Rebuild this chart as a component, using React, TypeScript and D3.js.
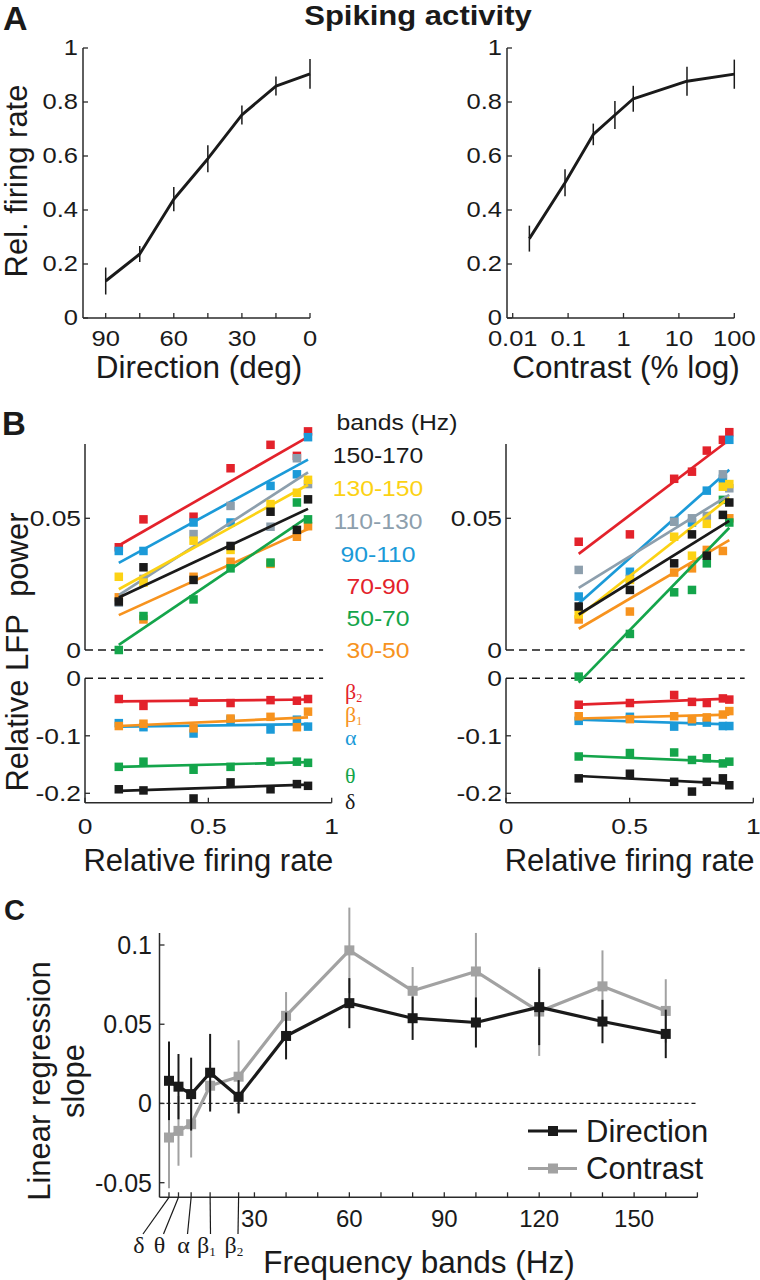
import React from 'react';
import * as d3 from 'd3';

// ---------- Panel A : spiking activity ----------
const directionDeg = [90, 75, 60, 45, 30, 15, 0];
const directionRate = [0.137, 0.237, 0.44, 0.59, 0.752, 0.859, 0.904];
const directionErr = [0.05, 0.03, 0.045, 0.05, 0.035, 0.035, 0.055];
const contrastPct = [0.02, 0.088, 0.285, 0.7, 1.5, 14, 100];
const contrastRate = [0.294, 0.501, 0.68, 0.752, 0.812, 0.877, 0.903];
const contrastErr = [0.048, 0.05, 0.04, 0.052, 0.048, 0.054, 0.054];
const rateTicks = [0, 0.2, 0.4, 0.6, 0.8, 1];
const rateTickLabels = ['0', '0.2', '0.4', '0.6', '0.8', '1'];
const directionTicks = [90, 75, 60, 45, 30, 15, 0];
const directionTickLabels = [90, 60, 30, 0];
const contrastTicks = [0.01, 0.1, 1, 10, 100];
const contrastTickLabels = ['0.01', '0.1', '1', '10', '100'];

// ---------- Bands (shared by B and C) ----------
const bandNames = ['δ', 'θ', 'α', 'β1', 'β2', '30-50', '50-70', '70-90', '90-110', '110-130', '130-150', '150-170'];
const bandColors = ['#1a1a1a', '#14a54b', '#1b9ad8', '#f7931e', '#e3222b', '#f7931e', '#14a54b', '#e3222b', '#1b9ad8', '#8d9fad', '#fcd214', '#1a1a1a'];
const bandFreq = [3, 6, 10, 16, 25, 40, 60, 80, 100, 120, 140, 160];

// ---------- Panel B : relative LFP power vs relative firing rate ----------
// rows follow bandNames, columns follow the 7 stimulus conditions
const lfpDirection = [
  [-0.193, -0.195, -0.209, -0.181, -0.193, -0.184, -0.187],
  [-0.154, -0.145, -0.159, -0.154, -0.145, -0.145, -0.147],
  [-0.078, -0.085, -0.096, -0.072, -0.089, -0.072, -0.084],
  [-0.083, -0.079, -0.087, -0.070, -0.067, -0.085, -0.058],
  [-0.036, -0.048, -0.041, -0.043, -0.038, -0.039, -0.036],
  [0.020, 0.0116, 0.0278, 0.0335, 0.0327, 0.043, 0.047],
  [0.0, 0.0129, 0.0192, 0.031, 0.0332, 0.056, 0.0496],
  [0.039, 0.0496, 0.0506, 0.069, 0.0779, 0.0737, 0.083],
  [0.0376, 0.0376, 0.0484, 0.0484, 0.0623, 0.0667, 0.0808],
  [0.018, 0.027, 0.044, 0.0547, 0.0468, 0.0728, 0.063],
  [0.0278, 0.0256, 0.0415, 0.038, 0.0554, 0.0597, 0.0646],
  [0.0184, 0.0314, 0.0266, 0.0395, 0.0525, 0.0456, 0.0572],
];
const lfpContrast = [
  [-0.174, -0.166, -0.180, -0.197, -0.180, -0.174, -0.186],
  [-0.136, -0.130, -0.129, -0.142, -0.139, -0.148, -0.145],
  [-0.074, -0.067, -0.084, -0.075, -0.077, -0.083, -0.083],
  [-0.066, -0.071, -0.066, -0.071, -0.068, -0.063, -0.057],
  [-0.046, -0.043, -0.029, -0.041, -0.043, -0.035, -0.037],
  [0.0116, 0.0146, 0.0294, 0.031, 0.038, 0.0376, 0.05],
  [-0.0101, 0.0061, 0.0219, 0.0228, 0.0329, 0.057, 0.0484],
  [0.0411, 0.0439, 0.065, 0.0677, 0.0757, 0.0798, 0.0827],
  [0.0203, 0.0297, 0.049, 0.0484, 0.0605, 0.065, 0.0798],
  [0.0304, 0.027, 0.0487, 0.05, 0.0509, 0.0667, 0.0614],
  [0.0135, 0.0266, 0.043, 0.0358, 0.0479, 0.062, 0.063],
  [0.0165, 0.0228, 0.0329, 0.0439, 0.0358, 0.0513, 0.056],
];
// regression intercepts (slopes are the values plotted in panel C)
const fitInterceptDirection = [-0.1979, -0.1555, -0.0851, -0.0856, -0.0407, 0.0074, -0.0067, 0.0323, 0.0261, 0.0125, 0.016, 0.0139];
const fitInterceptContrast = [-0.1636, -0.1296, -0.0682, -0.0732, -0.0506, -0.0082, -0.0408, 0.0156, -0.0068, 0.0065, -0.0089, -0.0037];
const upperTicks = [0, 0.05];
const upperTickLabels = ['0', '0.05'];
const lowerTicks = [0, -0.1, -0.2];
const lowerTickLabels = ['0', '-0.1', '-0.2'];
const firingTicks = [0, 0.5, 1];
const firingTickLabels = ['0', '0.5', '1'];

// ---------- Panel C : regression slopes ----------
const slopeDirection = [0.0143, 0.0106, 0.0059, 0.0194, 0.0042, 0.0426, 0.0633, 0.0538, 0.0511, 0.0608, 0.0517, 0.0439];
const slopeDirectionErr = [0.0248, 0.0206, 0.023, 0.0245, 0.0105, 0.0148, 0.0158, 0.0137, 0.0158, 0.024, 0.0137, 0.0153];
const slopeContrast = [-0.0215, -0.0173, -0.0131, 0.0112, 0.0169, 0.0553, 0.0966, 0.0711, 0.0833, 0.058, 0.0739, 0.0584];
const slopeContrastErr = [0.032, 0.022, 0.021, 0.015, 0.023, 0.015, 0.027, 0.015, 0.0243, 0.028, 0.0227, 0.02];
const slopeTicks = [-0.05, 0, 0.05, 0.1];
const slopeTickLabels = ['-0.05', '0', '0.05', '0.1'];
const freqTicks = [30, 40, 50, 60, 70, 80, 90, 100, 110, 120, 130, 140, 150, 160, 170];
const freqTickLabels = [30, 60, 90, 120, 150];

const FONT = '"Liberation Sans", Arial, Helvetica, sans-serif';
const SERIF = '"Liberation Serif", "Times New Roman", serif';
const INK = '#1a1a1a';
const AXIS = '#2a2a2a';
const GRAY = '#a2a2a2';

function Txt(props: any) {
  const { x, y, children, size = 24, anchor = 'start', weight = 'normal', fill = INK, sx = 1, rotate = 0, family = FONT } = props;
  let t = `translate(${x},${y})`;
  if (rotate) t += ` rotate(${rotate})`;
  if (sx !== 1) t += ` scale(${sx},1)`;
  return (
    <text transform={t} fontSize={size} textAnchor={anchor} fontWeight={weight} fill={fill} fontFamily={family}>
      {children}
    </text>
  );
}

function Greek({ name, x, y, size, fill, anchor = 'start' }: any) {
  const base = name.charAt(0);
  const sub = name.length > 1 ? name.slice(1) : null;
  return (
    <text x={x} y={y} fontSize={size} fill={fill} fontFamily={SERIF} textAnchor={anchor}>
      {base}
      {sub && (
        <tspan fontSize={size * 0.55} dy={size * 0.12}>
          {sub}
        </tspan>
      )}
    </text>
  );
}

function PanelAChart({ xScale, xs, rates, errs, ticks, tickLabelVals, tickLabels, axisX0, axisX1, yLabelX, label }: any) {
  const yA = d3.scaleLinear().domain([0, 1]).range([318, 48]);
  const path = d3.line<number>().x((_, i) => xScale(xs[i])).y((d) => yA(d))(rates) as string;
  return (
    <g>
      <line x1={axisX0} x2={axisX0} y1={yA(1)} y2={yA(0)} stroke={AXIS} strokeWidth={1.5} />
      <line x1={axisX0} x2={axisX1} y1={yA(0)} y2={yA(0)} stroke={AXIS} strokeWidth={1.5} />
      {rateTicks.map((t, i) => (
        <g key={'y' + i}>
          <line x1={axisX0} x2={axisX0 + 5} y1={yA(t)} y2={yA(t)} stroke={AXIS} strokeWidth={1.3} />
          <Txt x={yLabelX} y={yA(t) + 7} size={22} sx={1.16} anchor="end">{rateTickLabels[i]}</Txt>
        </g>
      ))}
      {ticks.map((t: number, i: number) => (
        <line key={'x' + i} x1={xScale(t)} x2={xScale(t)} y1={yA(0)} y2={yA(0) - 5} stroke={AXIS} strokeWidth={1.3} />
      ))}
      {tickLabelVals.map((t: number, i: number) => (
        <Txt key={'xl' + i} x={xScale(t)} y={346} size={22} sx={1.16} anchor="middle">{tickLabels[i]}</Txt>
      ))}
      {rates.map((r: number, i: number) => (
        <line key={'e' + i} x1={xScale(xs[i])} x2={xScale(xs[i])} y1={yA(r - errs[i])} y2={yA(r + errs[i])} stroke={INK} strokeWidth={1.5} />
      ))}
      <path d={path} fill="none" stroke={INK} strokeWidth={2.9} strokeLinejoin="round" />
      {label}
    </g>
  );
}

function PanelBChart({ xScale, rates, values, intercepts, slopes, axisX0 }: any) {
  const yUp = d3.scaleLinear().domain([0, 0.05]).range([650, 518.3]);
  const yLow = d3.scaleLinear().domain([0, -0.1]).range([678.3, 735.8]);
  const x0 = xScale(0);
  const x1 = xScale(1);
  const xDashEnd = xScale(0.965);
  const bottom = yLow(-0.2164);
  const order = [0, 1, 2, 3, 4, 5, 6, 7, 8, 9, 10, 11];
  return (
    <g>
      <line x1={x0} x2={x0} y1={yUp(0.0782)} y2={yUp(0)} stroke={AXIS} strokeWidth={1.5} />
      <line x1={x0} x2={x0} y1={yLow(0)} y2={bottom} stroke={AXIS} strokeWidth={1.5} />
      <line x1={x0} x2={x1} y1={bottom} y2={bottom} stroke={AXIS} strokeWidth={1.5} />
      <line x1={x0} x2={xDashEnd} y1={yUp(0)} y2={yUp(0)} stroke={INK} strokeWidth={1.5} strokeDasharray="8,5" />
      <line x1={x0} x2={xDashEnd} y1={yLow(0)} y2={yLow(0)} stroke={INK} strokeWidth={1.5} strokeDasharray="8,5" />
      {upperTicks.map((t, i) => (
        <g key={'u' + i}>
          {t !== 0 && <line x1={x0} x2={x0 + 5} y1={yUp(t)} y2={yUp(t)} stroke={AXIS} strokeWidth={1.3} />}
          <Txt x={axisX0} y={yUp(t) + 8} size={22} sx={1.2} anchor="end">{upperTickLabels[i]}</Txt>
        </g>
      ))}
      {lowerTicks.map((t, i) => (
        <g key={'l' + i}>
          {t !== 0 && <line x1={x0} x2={x0 + 5} y1={yLow(t)} y2={yLow(t)} stroke={AXIS} strokeWidth={1.3} />}
          <Txt x={axisX0} y={yLow(t) + 8} size={22} sx={1.2} anchor="end">{lowerTickLabels[i]}</Txt>
        </g>
      ))}
      {firingTicks.map((t, i) => (
        <g key={'f' + i}>
          <line x1={xScale(t)} x2={xScale(t)} y1={bottom} y2={bottom - 5} stroke={AXIS} strokeWidth={1.3} />
          <Txt x={xScale(t)} y={834} size={22} sx={1.2} anchor="middle">{firingTickLabels[i]}</Txt>
        </g>
      ))}
      {order.map((b) => {
        const ys = b < 5 ? yLow : yUp;
        const xa = rates[0];
        const xb = rates[rates.length - 1];
        const ya = intercepts[b] + slopes[b] * xa;
        const yb = intercepts[b] + slopes[b] * xb;
        return (
          <g key={'b' + b}>
            <line x1={xScale(xa)} x2={xScale(xb)} y1={ys(ya)} y2={ys(yb)} stroke={bandColors[b]} strokeWidth={2.7} />
            {values[b].map((v: number, i: number) => (
              <rect key={i} x={xScale(rates[i]) - 4.25} y={ys(v) - 4.25} width={8.5} height={8.5} fill={bandColors[b]} />
            ))}
          </g>
        );
      })}
      <Txt x={(x0 + x1) / 2} y={871} size={31} anchor="middle">Relative firing rate</Txt>
    </g>
  );
}

export default function App() {
  const xA1 = d3.scaleLinear().domain([100, 0]).range([83, 310]);
  const xA2 = d3.scaleLog().domain([0.01, 100]).range([512.7, 734.3]);
  const xB1 = d3.scaleLinear().domain([0, 1]).range([85, 331.7]);
  const xB2 = d3.scaleLinear().domain([0, 1]).range([506, 753.3]);
  const xC = d3.scaleLinear().domain([0, 170]).range([159.5, 697.4]);
  const yC = d3.scaleLinear().domain([-0.05, 0.1]).range([1182.7, 945]);
  const cAxisY = 1197.3;

  const highLegendOrder = [11, 10, 9, 8, 7, 6, 5];
  const highLegendY = [463, 496, 528.5, 561.5, 593.5, 625.5, 658];
  const lowLegendOrder = [4, 3, 2, 1, 0];
  const lowLegendY = [699, 722, 745, 783, 809];
  const bandLabelX = [139, 159.5, 183.5, 206.5, 234];

  const lineDir = d3.line<number>().x((_, i) => xC(bandFreq[i])).y((d) => yC(d))(slopeDirection) as string;
  const lineCon = d3.line<number>().x((_, i) => xC(bandFreq[i])).y((d) => yC(d))(slopeContrast) as string;

  return (
    <svg width={760} height={1280} style={{ position: 'absolute', left: 0, top: 0, background: '#fff' }} fontFamily={FONT}>
      <rect width={760} height={1280} fill="#fff" />
      {/* ===== Panel A ===== */}
      <Txt x={3} y={30} size={34} weight="bold">A</Txt>
      <Txt x={418} y={25} size={27} sx={1.15} weight="bold" anchor="middle">Spiking activity</Txt>
      <PanelAChart
        xScale={xA1}
        xs={directionDeg}
        rates={directionRate}
        errs={directionErr}
        ticks={directionTicks}
        tickLabelVals={directionTickLabels}
        tickLabels={directionTickLabels.map(String)}
        axisX0={83}
        axisX1={xA1(0)}
        yLabelX={78}
        label={<Txt x={199} y={378} size={31.5} anchor="middle">Direction (deg)</Txt>}
      />
      <Txt x={27} y={181} size={31} rotate={-90} anchor="middle">Rel. firing rate</Txt>
      <PanelAChart
        xScale={xA2}
        xs={contrastPct}
        rates={contrastRate}
        errs={contrastErr}
        ticks={contrastTicks}
        tickLabelVals={contrastTicks}
        tickLabels={contrastTickLabels}
        axisX0={507}
        axisX1={xA2(100)}
        yLabelX={502}
        label={<Txt x={626} y={378} size={31.5} anchor="middle">Contrast (% log)</Txt>}
      />

      {/* ===== Panel B ===== */}
      <Txt x={2} y={435} size={33} weight="bold">B</Txt>
      <Txt x={28} y={652} size={31} rotate={-90} anchor="middle">{'Relative LFP\u00A0\u00A0power'}</Txt>
      <PanelBChart xScale={xB1} rates={directionRate} values={lfpDirection} intercepts={fitInterceptDirection} slopes={slopeDirection} axisX0={81} />
      <PanelBChart xScale={xB2} rates={contrastRate} values={lfpContrast} intercepts={fitInterceptContrast} slopes={slopeContrast} axisX0={502} />
      <Txt x={336.5} y={430} size={21.5} sx={1.15}>bands (Hz)</Txt>
      {highLegendOrder.map((b, i) => (
        <Txt key={'hl' + b} x={378} y={highLegendY[i]} size={21.5} sx={1.15} anchor="middle" fill={bandColors[b]}>
          {bandNames[b]}
        </Txt>
      ))}
      {lowLegendOrder.map((b, i) => (
        <Greek key={'ll' + b} name={bandNames[b]} x={345} y={lowLegendY[i]} size={22} fill={bandColors[b]} />
      ))}

      {/* ===== Panel C ===== */}
      <Txt x={4} y={920} size={29} weight="bold">C</Txt>
      <Txt x={50} y={1081} size={31} rotate={-90} anchor="middle">Linear regression</Txt>
      <Txt x={84} y={1081} size={31} rotate={-90} anchor="middle">slope</Txt>
      <line x1={xC(0)} x2={xC(0)} y1={yC(0.1076)} y2={cAxisY} stroke={AXIS} strokeWidth={1.5} />
      <line x1={xC(0)} x2={xC(170)} y1={cAxisY} y2={cAxisY} stroke={AXIS} strokeWidth={1.5} />
      <line x1={xC(0)} x2={xC(170)} y1={yC(0)} y2={yC(0)} stroke={INK} strokeWidth={1.3} strokeDasharray="4,3" />
      {slopeTicks.map((t, i) => (
        <g key={'ct' + i}>
          <line x1={xC(0)} x2={xC(0) + 5} y1={yC(t)} y2={yC(t)} stroke={AXIS} strokeWidth={1.3} />
          <Txt x={152} y={yC(t) + 9} size={25} anchor="end">{slopeTickLabels[i]}</Txt>
        </g>
      ))}
      {freqTicks.map((f, i) => (
        <line key={'ft' + i} x1={xC(f)} x2={xC(f)} y1={cAxisY} y2={cAxisY - 5} stroke={AXIS} strokeWidth={1.3} />
      ))}
      {freqTickLabels.map((f, i) => (
        <Txt key={'fl' + i} x={xC(f)} y={1227} size={24} anchor="middle">{String(f)}</Txt>
      ))}
      {bandLabelX.map((lx, i) => (
        <g key={'bl' + i}>
          <line x1={xC(bandFreq[i])} x2={xC(bandFreq[i])} y1={cAxisY} y2={cAxisY - 5} stroke={AXIS} strokeWidth={1.3} />
          <line x1={xC(bandFreq[i])} x2={lx + 4} y1={cAxisY} y2={1234} stroke={INK} strokeWidth={1.2} />
          <Greek name={bandNames[i]} x={lx} y={1253} size={24} fill={INK} anchor="middle" />
        </g>
      ))}
      <Txt x={419} y={1273} size={31.5} anchor="middle">Frequency bands (Hz)</Txt>
      {slopeContrast.map((v, i) => (
        <line key={'ce' + i} x1={xC(bandFreq[i])} x2={xC(bandFreq[i])} y1={yC(v - slopeContrastErr[i])} y2={yC(v + slopeContrastErr[i])} stroke={GRAY} strokeWidth={2} />
      ))}
      <path d={lineCon} fill="none" stroke={GRAY} strokeWidth={3.2} strokeLinejoin="round" />
      {slopeContrast.map((v, i) => (
        <rect key={'cs' + i} x={xC(bandFreq[i]) - 5} y={yC(v) - 5} width={10} height={10} fill={GRAY} />
      ))}
      {slopeDirection.map((v, i) => (
        <line key={'de' + i} x1={xC(bandFreq[i])} x2={xC(bandFreq[i])} y1={yC(v - slopeDirectionErr[i])} y2={yC(v + slopeDirectionErr[i])} stroke={INK} strokeWidth={2} />
      ))}
      <path d={lineDir} fill="none" stroke={INK} strokeWidth={3.2} strokeLinejoin="round" />
      {slopeDirection.map((v, i) => (
        <rect key={'ds' + i} x={xC(bandFreq[i]) - 5} y={yC(v) - 5} width={10} height={10} fill={INK} />
      ))}
      <line x1={528} x2={577} y1={1131} y2={1131} stroke={INK} strokeWidth={3.2} />
      <rect x={548} y={1126} width={10} height={10} fill={INK} />
      <Txt x={586} y={1142} size={31}>Direction</Txt>
      <line x1={528} x2={577} y1={1168.5} y2={1168.5} stroke={GRAY} strokeWidth={3.2} />
      <rect x={548} y={1163.5} width={10} height={10} fill={GRAY} />
      <Txt x={586} y={1179} size={31}>Contrast</Txt>
    </svg>
  );
}
